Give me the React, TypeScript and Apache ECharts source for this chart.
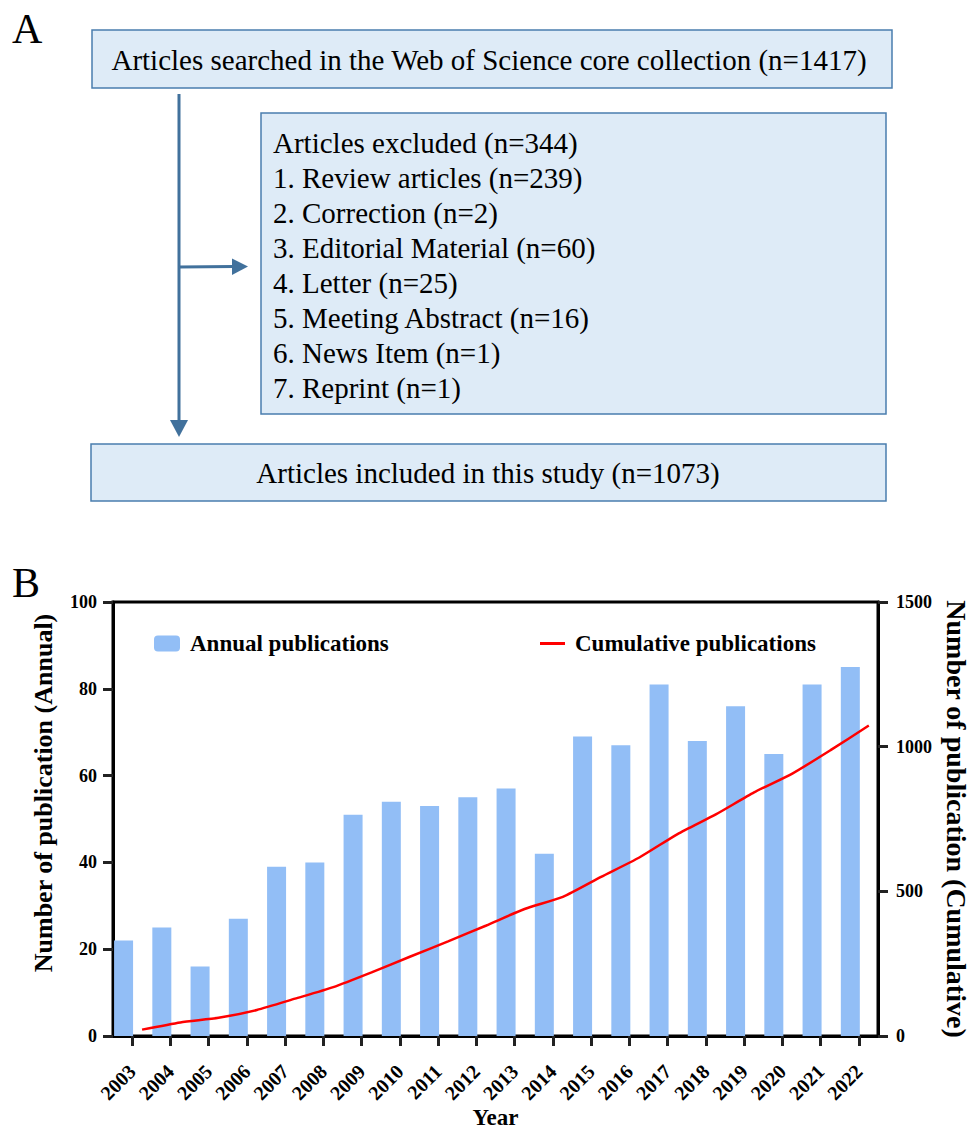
import React, { useEffect, useRef } from "react";
import * as echarts from "echarts";

const years = ["2003","2004","2005","2006","2007","2008","2009","2010","2011","2012","2013","2014","2015","2016","2017","2018","2019","2020","2021","2022"];
const annual = [22,25,16,27,39,40,51,54,53,55,57,42,69,67,81,68,76,65,81,85];
const cumulative = [22,47,63,90,129,169,220,274,327,382,439,481,550,617,698,766,842,907,988,1073];
const leftTicks = { min: 0, max: 100, interval: 20 };
const rightTicks = { min: 0, max: 1500, interval: 500 };

const topBoxText = "Articles searched in the Web of Science core collection (n=1417)";
const excludedLines = [
  "Articles excluded (n=344)",
  "1. Review articles (n=239)",
  "2. Correction (n=2)",
  "3. Editorial Material (n=60)",
  "4. Letter (n=25)",
  "5. Meeting Abstract (n=16)",
  "6. News Item (n=1)",
  "7. Reprint (n=1)",
];
const bottomBoxText = "Articles included in this study (n=1073)";

const SERIF = "'Liberation Serif', 'Times New Roman', serif";
const BOX_FILL = "#DEEBF7";
const BOX_STROKE = "#4A7EAE";
const ARROW = "#41719C";
const BAR = "#92BEF6";
const TICK = "#222222";

export default function App() {
  const ref = useRef<HTMLDivElement>(null);
  useEffect(() => {
    document.body.style.margin = "0";
    const chart = echarts.init(ref.current!, null, { renderer: "svg" });
    const graphic: any[] = [
      { type: "text", left: 12, top: 8, style: { text: "A", font: `42px ${SERIF}`, fill: "#000" } },
      { type: "text", left: 12, top: 562, style: { text: "B", font: `42px ${SERIF}`, fill: "#000" } },
      { type: "rect", shape: { x: 92, y: 30, width: 800, height: 58 }, style: { fill: BOX_FILL, stroke: BOX_STROKE, lineWidth: 1.5 } },
      { type: "text", x: 489, y: 60, style: { text: topBoxText, font: `29px ${SERIF}`, fill: "#000", align: "center", verticalAlign: "middle" } },
      { type: "rect", shape: { x: 261, y: 113, width: 625, height: 301 }, style: { fill: BOX_FILL, stroke: BOX_STROKE, lineWidth: 1.5 } },
      ...excludedLines.map((t, i) => ({
        type: "text", x: 273, y: 143 + i * 35,
        style: { text: t, font: `29px ${SERIF}`, fill: "#000", align: "left", verticalAlign: "middle" },
      })),
      { type: "rect", shape: { x: 91, y: 444, width: 795, height: 57 }, style: { fill: BOX_FILL, stroke: BOX_STROKE, lineWidth: 1.5 } },
      { type: "text", x: 488, y: 473, style: { text: bottomBoxText, font: `29px ${SERIF}`, fill: "#000", align: "center", verticalAlign: "middle" } },
      { type: "line", shape: { x1: 179, y1: 94, x2: 179, y2: 422 }, style: { stroke: ARROW, lineWidth: 3 } },
      { type: "polygon", shape: { points: [[170, 420], [188, 420], [179, 437]] }, style: { fill: ARROW } },
      { type: "line", shape: { x1: 179, y1: 267, x2: 234, y2: 266.5 }, style: { stroke: ARROW, lineWidth: 3 } },
      { type: "polygon", shape: { points: [[232, 258.5], [232, 275], [248, 266.5]] }, style: { fill: ARROW } },
    ];

    const mkLine = () => ({ show: true, onZero: false, lineStyle: { color: "#000", width: 3 } });
    const mkTick = (length: number) => ({ show: true, inside: false, length, lineStyle: { color: TICK, width: 3, opacity: 1 } });
    const labelStyle = { color: "#000", fontFamily: SERIF, fontWeight: "bold" as const, fontSize: 18 };
    const nameStyle = { color: "#000", fontFamily: SERIF, fontWeight: "bold" as const, fontSize: 26 };

    chart.setOption({
      animation: false,
      graphic,
      grid: { left: 113, right: 94, top: 602, bottom: 91, show: true, borderColor: "#000", borderWidth: 3, containLabel: false, outerBoundsMode: "none" },
      legend: [
        {
          left: 149, top: 627, itemWidth: 26, itemHeight: 16, data: ["Annual publications"],
          textStyle: { ...nameStyle, fontSize: 23, padding: [0, 0, 0, 5] }, selectedMode: false,
        },
        {
          left: 535, top: 627, itemWidth: 25, itemHeight: 3, icon: "rect",
          data: [{ name: "Cumulative publications", itemStyle: { color: "#FF0000" } }],
          textStyle: { ...nameStyle, fontSize: 23, padding: [0, 0, 0, 5] }, selectedMode: false,
        },
      ],
      xAxis: [
        {
          type: "category", data: years, boundaryGap: true,
          axisLine: mkLine(), axisTick: { ...mkTick(10), alignWithLabel: true, interval: 0 },
          axisLabel: { ...labelStyle, fontSize: 20, rotate: 45, margin: 32, interval: 0 },
          name: "Year", nameLocation: "middle", nameGap: 62, nameTextStyle: { ...nameStyle, fontSize: 23 },
          splitLine: { show: false },
        },
        { type: "value", min: 0, max: years.length, show: false },
      ],
      yAxis: [
        {
          type: "value", ...leftTicks, position: "left",
          axisLine: mkLine(), axisTick: mkTick(10),
          axisLabel: { ...labelStyle, margin: 16 }, splitLine: { show: false },
          name: "Number of publication (Annual)", nameLocation: "middle", nameGap: 57,
          nameTextStyle: { ...nameStyle, padding: [0, 0, 0, 52] },
        },
        {
          type: "value", ...rightTicks, position: "right",
          axisLine: mkLine(), axisTick: mkTick(10),
          axisLabel: { ...labelStyle, margin: 18, formatter: (v: number) => String(v) }, splitLine: { show: false },
          name: "Number of publication (Cumulative)", nameLocation: "middle", nameGap: 52, nameRotate: -90, nameTextStyle: { ...nameStyle, fontSize: 28 },
        },
      ],
      series: [
        {
          name: "Annual publications", type: "bar", xAxisIndex: 0, yAxisIndex: 0,
          data: annual, barWidth: 19, barGap: "-10%", itemStyle: { color: BAR },
        },
        {
          name: "placeholder", type: "bar", xAxisIndex: 0, yAxisIndex: 0,
          data: years.map(() => "-"), barWidth: 19, itemStyle: { color: "transparent" },
        },
        {
          name: "Cumulative publications", type: "line", xAxisIndex: 1, yAxisIndex: 1,
          data: cumulative.map((v, i) => [i + 0.76, v]), symbol: "none", smooth: 0.2,
          lineStyle: { color: "#FF0000", width: 2.5 }, itemStyle: { color: "#FF0000" },
        },
      ],
    });
    return () => chart.dispose();
  }, []);
  return <div ref={ref} style={{ width: 972, height: 1127 }} />;
}
